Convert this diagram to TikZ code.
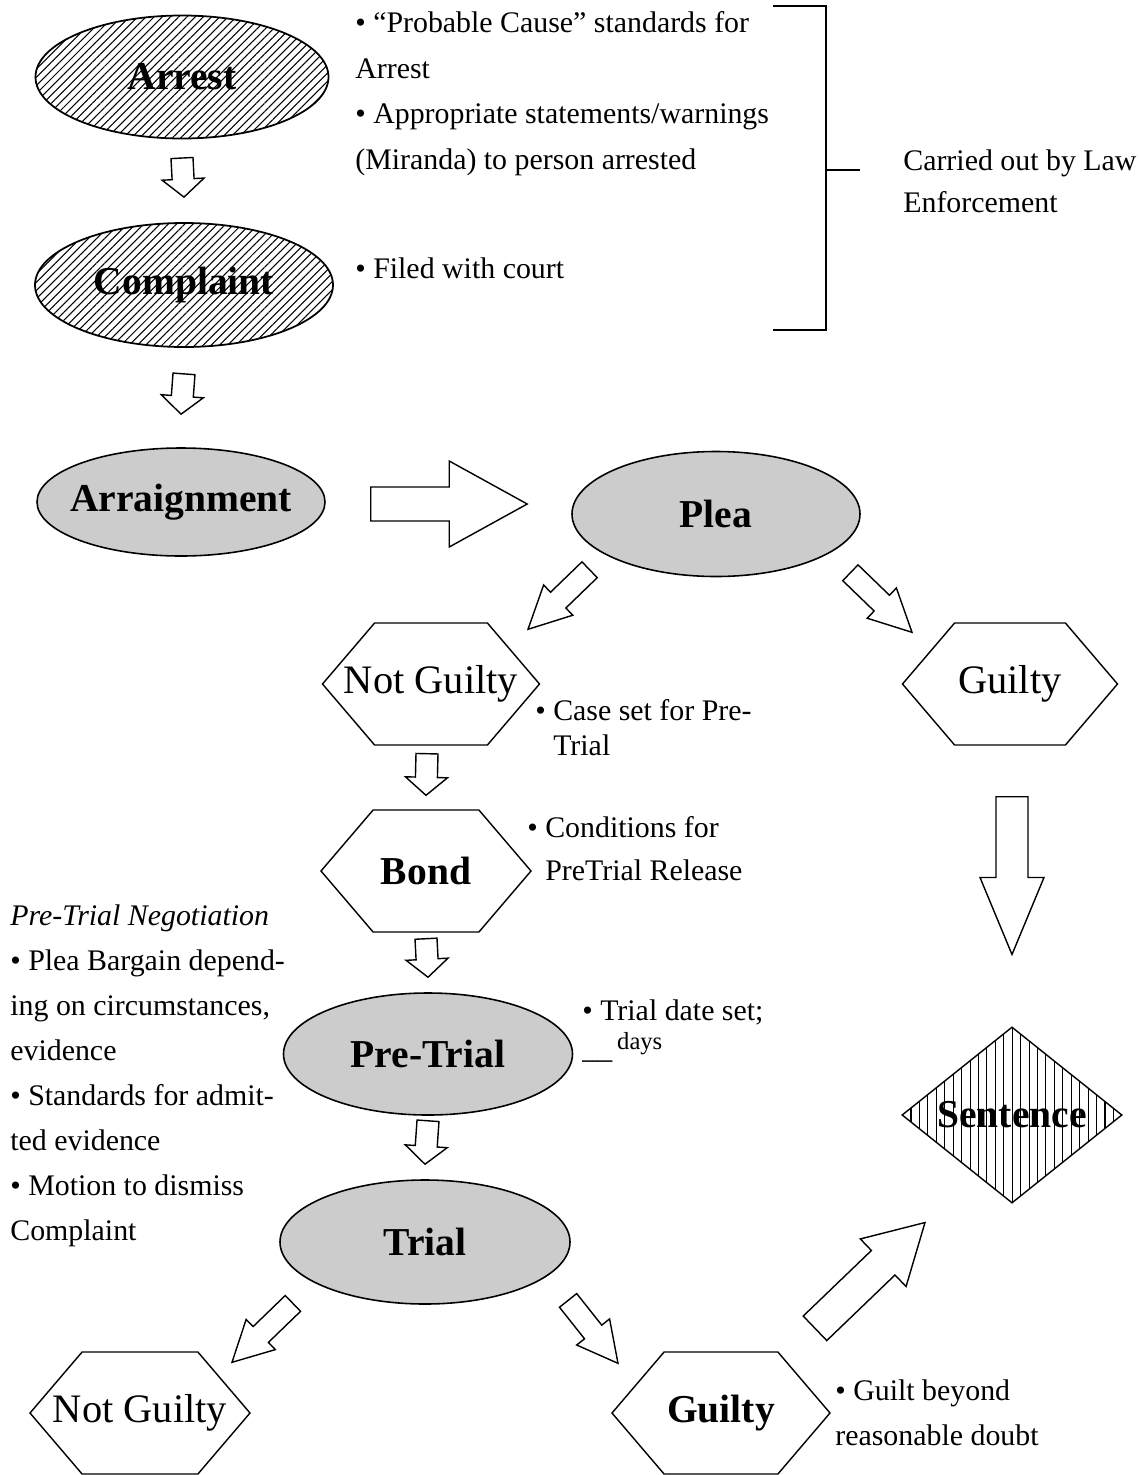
\documentclass[tikz,border=0pt]{standalone}
\usepackage{fontspec}
\setmainfont{Liberation Serif}
\usetikzlibrary{calc,shapes.geometric,shapes.symbols,patterns.meta}

% text centred over a box of no width, so the shape keeps its own size
\newcommand{\inlbl}[1]{\makebox[0pt]{#1}}

% hollow block arrow: start, tip, shaft half width, head half width, head length (px)
\newcommand{\blockarrow}[5]{%
	\coordinate (ba-s) at #1;
	\coordinate (ba-e) at #2;
	\coordinate (ba-h) at ($(ba-e)!{#5*0.2mm}!(ba-s)$);
	\draw[hollow] ($(ba-s)!{#3*0.2mm}!90:(ba-e)$) -- ($(ba-h)!{#3*0.2mm}!-90:(ba-s)$) -- ($(ba-h)!{#4*0.2mm}!-90:(ba-s)$) -- (ba-e) -- ($(ba-h)!{#4*0.2mm}!90:(ba-s)$) -- ($(ba-h)!{#3*0.2mm}!90:(ba-s)$) -- ($(ba-s)!{#3*0.2mm}!-90:(ba-e)$) -- cycle;
}

\tikzset{
	hatched/.style={ellipse, draw, line width=1pt, inner sep=0pt, pattern={Lines[angle=45,distance=3.3pt,line width=0.6pt]}, font=\fontsize{22.5}{27}\selectfont\bfseries},
	greyoval/.style={ellipse, draw, line width=0.9pt, inner sep=0pt, fill=black!20, font=\fontsize{22.5}{27}\selectfont\bfseries},
	hexa/.style={signal, signal to=west and east, signal pointer angle=99, draw, line width=0.8pt, inner sep=0pt, minimum width=4.34cm, minimum height=2.44cm, font=\fontsize{23}{27}\selectfont},
	note/.style={anchor=north west, inner sep=0pt, align=left, font=\fontsize{17}{26}\selectfont},
	hollow/.style={draw, line width=0.8pt, fill=white, line join=miter},
}

\begin{document}
\begin{tikzpicture}[x=0.2mm,y=-0.2mm]
	\useasboundingbox (0,0) rectangle (1141,1475);

	% law enforcement part
	\node[hatched, minimum width=5.86cm, minimum height=2.46cm] (arrest) at (182,77) {\inlbl{Arrest}};
	\node[hatched, minimum width=5.96cm, minimum height=2.48cm] (complaint) at (184,285) {\inlbl{Complaint}};
	\node[greyoval, minimum width=5.76cm, minimum height=2.16cm] (arraign) at (181,502) {\inlbl{Arraignment}};
	\node[greyoval, minimum width=5.76cm, minimum height=2.5cm] (plea) at (716,514) {\inlbl{Plea}};

	\node[hexa] (ngA) at (431,684) {\inlbl{Not Guilty}};
	\node[hexa, minimum width=4.3cm] (gA) at (1010,684) {\inlbl{Guilty}};
	\node[hexa, minimum width=4.2cm, font=\fontsize{22.5}{27}\selectfont\bfseries] (bond) at (426,871) {\inlbl{Bond}};
	\node[greyoval, minimum width=5.78cm, minimum height=2.44cm] (pretrial) at (428,1054) {\inlbl{Pre-Trial}};
	\node[greyoval, minimum width=5.8cm, minimum height=2.48cm] (trial) at (425,1242) {\inlbl{Trial}};
	\node[hexa, minimum width=4.4cm] (ngB) at (140,1413) {\inlbl{Not Guilty}};
	\node[hexa, minimum width=4.36cm, font=\fontsize{22.5}{27}\selectfont\bfseries] (gB) at (721,1413) {\inlbl{Guilty}};
	\node[diamond, draw, line width=0.8pt, inner sep=0pt, minimum width=4.4cm, minimum height=3.52cm, pattern={Lines[angle=90,distance=4.8pt,line width=0.6pt]}, font=\fontsize{22.5}{27}\selectfont\bfseries] (sentence) at (1012,1115) {\inlbl{Sentence}};

	% notes
	\node[note] (arrestnote) at (355,11) {• “Probable Cause” standards for\\Arrest\\• Appropriate statements/warnings\\(Miranda) to person arrested};
	\node[note] (complnote) at (355,257) {• Filed with court};
	\node[note, font=\fontsize{17}{24}\selectfont] (lawtxt) at (903,149) {Carried out by Law\\Enforcement};
	\node[note, font=\fontsize{17}{20}\selectfont] (ngnote) at (535,699) {• Case set for Pre-\\\phantom{• }Trial};
	\node[note, font=\fontsize{17}{24.5}\selectfont] (bondnote) at (527,816) {• Conditions for\\\phantom{• }PreTrial Release};
	\node[note, font=\fontsize{17}{22}\selectfont] (ptnote) at (582,999) {• Trial date set;\\\_\_\,\raisebox{5pt}{\fontsize{14}{14}\selectfont days}};
	\node[note, font=\fontsize{17}{25.6}\selectfont] (negnote) at (10,904) {\textit{Pre-Trial Negotiation}\\• Plea Bargain depend-\\ing on circumstances,\\evidence\\• Standards for admit-\\ted evidence\\• Motion to dismiss\\Complaint};
	\node[note] (guiltnote) at (835,1379) {• Guilt beyond\\reasonable doubt};

	% bracket
	\draw[line width=0.8pt] (773,6) -- (826,6) -- (826,330) -- (773,330);
	\draw[line width=0.8pt] (826,170) -- (860,170);

	% block arrows
	\blockarrow{($(arrest.south)+(0,19)$)}{($(complaint.north)+(0,-25)$)}{11}{21}{18}
	\blockarrow{($(complaint.south)+(0,26)$)}{($(arraign.north)+(0,-33)$)}{11}{21}{18}
	\blockarrow{($(arraign.east)+(45,2)$)}{($(plea.west)+(-44,-10)$)}{17}{43}{78}
	\blockarrow{($(plea.south west)+(-24,11)$)}{($(ngA.north)+(97,7)$)}{11}{21}{42}
	\blockarrow{($(plea.south east)+(32,14)$)}{($(gA.north)+(-98,10)$)}{11}{21}{42}
	\blockarrow{($(ngA.south)+(-4,8)$)}{($(bond.north)+(0,-14)$)}{11}{21}{18}
	\blockarrow{($(bond.south)+(0,6)$)}{($(pretrial.north)+(0,-15)$)}{11}{21}{18}
	\blockarrow{($(pretrial.south)+(0,5)$)}{($(trial.north)+(0,-15)$)}{11}{21}{18}
	\blockarrow{($(trial.south west)+(-29,17)$)}{($(ngB.north)+(92,11)$)}{11}{21}{40}
	\blockarrow{($(trial.south east)+(40,14)$)}{($(gB.north)+(-103,12)$)}{11}{21}{40}
	\blockarrow{($(gA.south)+(2,51)$)}{($(sentence.north)+(0,-72)$)}{16}{32}{77}
	\blockarrow{($(gB.north)+(94,-23)$)}{($(sentence.south)+(-87,19)$)}{17}{33}{58}
\end{tikzpicture}
\end{document}
